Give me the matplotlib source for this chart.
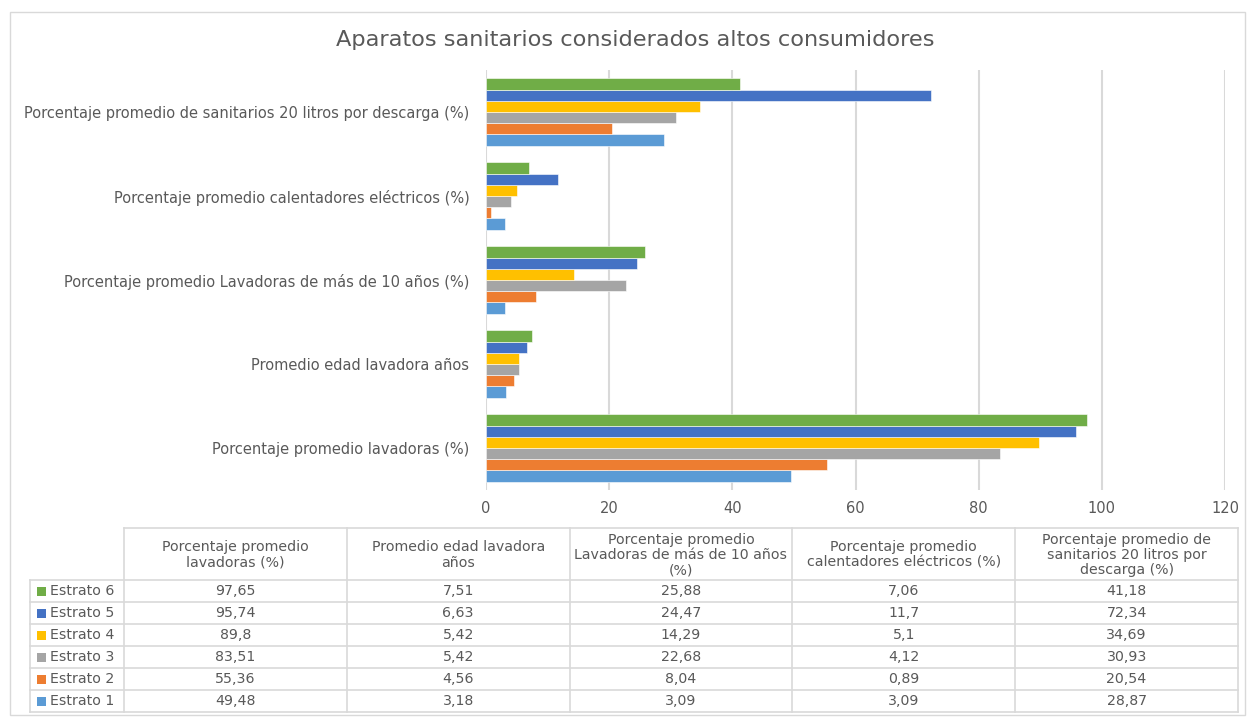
import matplotlib.pyplot as plt
import numpy as np

plt.rcParams['font.family'] = ['DejaVu Sans']

categories = [
    'Porcentaje promedio lavadoras (%)',
    'Promedio edad lavadora años',
    'Porcentaje promedio Lavadoras de más de 10 años (%)',
    'Porcentaje promedio calentadores eléctricos (%)',
    'Porcentaje promedio de sanitarios 20 litros por descarga (%)',
]
header_labels = [
    'Porcentaje promedio\nlavadoras (%)',
    'Promedio edad lavadora\naños',
    'Porcentaje promedio\nLavadoras de más de 10 años\n(%)',
    'Porcentaje promedio\ncalentadores eléctricos (%)',
    'Porcentaje promedio de\nsanitarios 20 litros por\ndescarga (%)',
]
series = ['Estrato 1', 'Estrato 2', 'Estrato 3', 'Estrato 4', 'Estrato 5', 'Estrato 6']
estrato_1 = [49.48, 3.18, 3.09, 3.09, 28.87]
estrato_2 = [55.36, 4.56, 8.04, 0.89, 20.54]
estrato_3 = [83.51, 5.42, 22.68, 4.12, 30.93]
estrato_4 = [89.8, 5.42, 14.29, 5.1, 34.69]
estrato_5 = [95.74, 6.63, 24.47, 11.7, 72.34]
estrato_6 = [97.65, 7.51, 25.88, 7.06, 41.18]
values = [estrato_1, estrato_2, estrato_3, estrato_4, estrato_5, estrato_6]
colors = ['#5B9BD5', '#ED7D31', '#A5A5A5', '#FFC000', '#4472C4', '#70AD47']

text_col = '#595959'
grid_col = '#D9D9D9'

W, H = 1249, 721
fig = plt.figure(figsize=(W / 100, H / 100), dpi=100)

# chart frame
frame = fig.add_axes([0, 0, 1, 1])
frame.set_xlim(0, W)
frame.set_ylim(H, 0)
frame.axis('off')
frame.add_patch(plt.Rectangle((10, 12), 1235, 703, fill=False, ec=grid_col, lw=1))

# bar chart
ax = fig.add_axes([486 / W, 1 - 490 / H, (1225 - 486) / W, (490 - 70) / H])
y = np.arange(len(categories))
bh = 0.8 / len(series)
for i, (name, vals) in enumerate(zip(series, values)):
    ax.barh(y - 0.4 + bh * (i + 0.5), vals, height=bh, color=colors[i],
            edgecolor='white', linewidth=0.4, zorder=3, label=name)
ax.set_xlim(0, 120)
ax.set_ylim(-0.5, len(categories) - 0.5)
ax.set_xticks(np.arange(0, 121, 20))
ax.set_yticks(y)
ax.set_yticklabels(categories)
ax.tick_params(axis='both', length=0, colors=text_col, labelsize=10.5)
ax.tick_params(axis='x', pad=8)
ax.tick_params(axis='y', pad=12)
ax.grid(axis='x', color=grid_col, linewidth=1.5, zorder=0)
for s in ax.spines.values():
    s.set_visible(False)

fig.text(635 / W, 1 - 40 / H, 'Aparatos sanitarios considerados altos consumidores',
         ha='center', va='center', fontsize=16.2, color=text_col)

# data table below the chart
tbl = fig.add_axes([0, 0, 1, 1])
tbl.set_xlim(0, W)
tbl.set_ylim(H, 0)
tbl.axis('off')
lab_x0 = 30
col_x = np.linspace(124, 1238, len(categories) + 1)
head_y0, head_y1 = 528, 580
row_h = 22
n_rows = len(series)
bottom = head_y1 + n_rows * row_h
lc = dict(color=grid_col, lw=1.2)
# horizontal lines
tbl.plot([col_x[0], col_x[-1]], [head_y0, head_y0], **lc)
for r in range(n_rows + 1):
    yy = head_y1 + r * row_h
    tbl.plot([lab_x0, col_x[-1]], [yy, yy], **lc)
# vertical lines
tbl.plot([lab_x0, lab_x0], [head_y1, bottom], **lc)
for cx in col_x:
    tbl.plot([cx, cx], [head_y0, bottom], **lc)

fs = 10.2
for j, lbl in enumerate(header_labels):
    tbl.text((col_x[j] + col_x[j + 1]) / 2, (head_y0 + head_y1) / 2 + 1, lbl,
             ha='center', va='center', fontsize=fs, color=text_col, linespacing=1.1)

for r, idx in enumerate(range(n_rows - 1, -1, -1)):
    yc = head_y1 + r * row_h + row_h / 2
    tbl.add_patch(plt.Rectangle((37, yc - 4.5), 9, 9, color=colors[idx], lw=0))
    tbl.text(50, yc, series[idx], ha='left', va='center', fontsize=fs, color=text_col)
    for j, v in enumerate(values[idx]):
        tbl.text((col_x[j] + col_x[j + 1]) / 2, yc, f'{v:g}'.replace('.', ','),
                 ha='center', va='center', fontsize=fs, color=text_col)

fig.savefig('out.png', dpi=100)
